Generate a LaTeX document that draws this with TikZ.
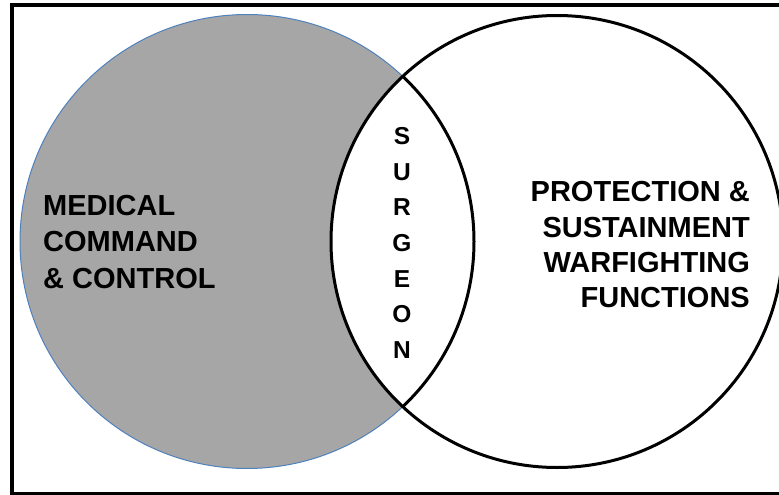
\documentclass[tikz,border=0pt]{standalone}
\usepackage{fontspec}
\setmainfont{Liberation Sans}
\definecolor{circgray}{RGB}{166,166,166}
\definecolor{circblue}{RGB}{79,129,189}
\begin{document}
\begin{tikzpicture}[x=1pt,y=-1pt,
  lefttext/.style={font=\bfseries\fontsize{29}{36.5}\selectfont, inner sep=0pt},
  righttext/.style={font=\bfseries\fontsize{29}{35.2}\selectfont, inner sep=0pt},
  vtext/.style={font=\bfseries\fontsize{24.5}{35.7}\selectfont, inner sep=0pt, align=center},
  leftcirc/.style={circle, minimum size=454pt, inner sep=0pt, fill=circgray, draw=circblue, line width=1pt},
  rightcirc/.style={circle, minimum size=452pt, inner sep=0pt, fill=white, draw=black, line width=3pt},
  frame/.style={draw=black, line width=4pt}]
\useasboundingbox (0,0) rectangle (779,495);
\draw[frame] (12,5) rectangle (800,494);
\node[leftcirc] (med) at (247,241.5) {};
\node[rightcirc] (prot) at (557,241.5) {};
\begin{scope}
  \clip (557,241.5) circle (226pt);
  \draw[black, line width=3pt] (247,241.5) circle (227pt);
\end{scope}
\node[lefttext, anchor=north west, align=left] (medtext) at (43,195) {MEDICAL\\COMMAND\\\& CONTROL};
\node[righttext, anchor=north east, align=right] (prottext) at (750,181.5) {PROTECTION \&\\SUSTAINMENT\\WARFIGHTING\\FUNCTIONS};
\node[vtext, anchor=north] (surg) at (402,127) {S\\U\\R\\G\\E\\O\\N};
\end{tikzpicture}
\end{document}
